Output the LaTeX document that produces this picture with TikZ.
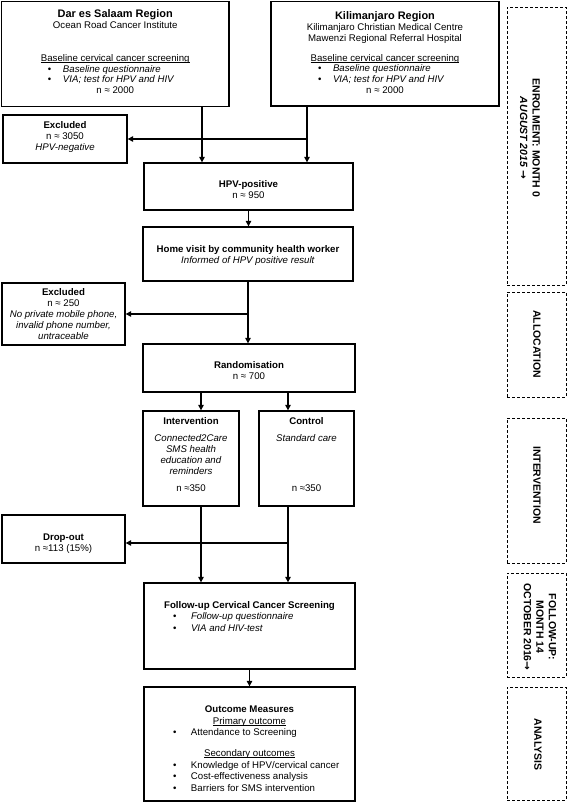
\documentclass[tikz,border=0pt]{standalone}
\usepackage{fontspec}
\setmainfont{Liberation Sans}
\newfontfamily\arrowfont{DejaVu Sans}
\usetikzlibrary{arrows.meta}
\newcommand{\bodyfont}{\fontsize{9.7}{11}\selectfont}
\newcommand{\loosefont}{\fontsize{9.7}{11.7}\selectfont}
\newcommand{\bigtitle}[1]{{\fontsize{11}{11}\selectfont\bfseries #1}}
\newcommand{\mybul}[3]{\makebox[#1][l]{\makebox[#2][l]{•}#3}}
\newcommand{\myul}[1]{\setbox0\hbox{#1}\rlap{\rule[-1.6bp]{\wd0}{0.6bp}}\box0}
\newcommand{\sidearrow}{{\arrowfont\bfseries\upshape →}}
\begin{document}
\begin{tikzpicture}[x=1bp,y=-1bp,
  box/.style={draw, line width=1.3bp, inner sep=0pt},
  sidebox/.style={draw, line width=0.8bp, dash pattern=on 3bp off 2bp, inner sep=0pt, minimum width=59bp},
  txt/.style={inner sep=0pt, align=center, font=\bodyfont},
  sidetxt/.style={inner sep=0pt, align=center, font=\fontsize{10.5}{12.5}\selectfont\bfseries, rotate=-90},
  arr/.style={line width=1.1bp, -{Triangle[length=5.5bp,width=5.5bp]}},
  ln/.style={line width=1.1bp}]
\fill[white] (0,0) rectangle (567,803);
\useasboundingbox (0,0) rectangle (567,803);

% boxes
\node[box, minimum width=227.5bp, minimum height=105bp] (dar) at (115.25,54) {};
\node[box, minimum width=228bp, minimum height=104.5bp] (kili) at (385,53.75) {};
\node[box, minimum width=124bp, minimum height=48bp] (exc1) at (65,139) {};
\node[box, minimum width=209bp, minimum height=47bp] (hpv) at (248.5,186.5) {};
\node[box, minimum width=210bp, minimum height=54bp] (home) at (248,254) {};
\node[box, minimum width=123bp, minimum height=62bp] (exc2) at (63.5,314) {};
\node[box, minimum width=212bp, minimum height=48bp] (rand) at (249,368) {};
\node[box, minimum width=96bp, minimum height=95bp] (int) at (191,458.5) {};
\node[box, minimum width=95bp, minimum height=95bp] (ctl) at (306.5,458.5) {};
\node[box, minimum width=123bp, minimum height=48bp] (drop) at (63.5,539) {};
\node[box, minimum width=211bp, minimum height=86bp] (fol) at (249.5,626) {};
\node[box, minimum width=211bp, minimum height=114bp] (out) at (249.5,744) {};

% side boxes
\node[sidebox, minimum height=278bp] (enr) at (536.5,146) {};
\node[sidebox, minimum height=105bp] (alloc) at (536.5,344.5) {};
\node[sidebox, minimum height=145bp] (intv) at (536.5,490.5) {};
\node[sidebox, minimum height=104bp] (fup) at (536.5,625) {};
\node[sidebox, minimum height=113bp] (ana) at (536.5,743.5) {};

% texts
\node[txt, anchor=north] (darT) at (115.25,9) {\bigtitle{Dar es Salaam Region}\\
  Ocean Road Cancer Institute\\[22bp]
  \myul{Baseline cervical cancer screening}\\
  \mybul{134.5bp}{15bp}{\textit{Baseline questionnaire}}\\
  \mybul{134.5bp}{15bp}{\textit{VIA; test for HPV and HIV}}\\
  n ≈ 2000};
\node[txt, anchor=north] (kiliT) at (385,11) {\bigtitle{Kilimanjaro Region}\\
  Kilimanjaro Christian Medical Centre\\
  Mawenzi Regional Referral Hospital\\[9bp]
  \myul{Baseline cervical cancer screening}\\
  \mybul{134bp}{15bp}{\textit{Baseline questionnaire}}\\
  \mybul{134bp}{15bp}{\textit{VIA; test for HPV and HIV}}\\
  n ≈ 2000};
\node[txt, anchor=north] (exc1T) at (65,121.5) {\textbf{Excluded}\\ n ≈ 3050\\ \textit{HPV-negative}};
\node[txt, anchor=north] (hpvT) at (248.5,180.5) {\textbf{HPV-positive}\\ n ≈ 950};
\node[txt, anchor=north] (homeT) at (248,245.5) {\textbf{Home visit by community health worker}\\ \textit{Informed of HPV positive result}};
\node[txt, anchor=north] (exc2T) at (63.5,288.5) {\textbf{Excluded}\\ n ≈ 250\\ \textit{No private mobile phone,}\\ \textit{invalid phone number,}\\ \textit{untraceable}};
\node[txt, anchor=north] (randT) at (249,361.5) {\textbf{Randomisation}\\ n ≈ 700};
\node[txt, anchor=north] (intT) at (191,417.5) {\textbf{Intervention}\\[6bp] \textit{Connected2Care}\\ \textit{SMS health}\\ \textit{education and}\\ \textit{reminders}\\[6bp] n ≈350};
\node[txt, anchor=north] (ctlT) at (306.5,417.5) {\textbf{Control}\\[6bp] \textit{Standard care}\\[39bp] n ≈350};
\node[txt, anchor=north] (dropT) at (63.5,533.5) {\textbf{Drop-out}\\ n ≈113 (15\%)};
\node[txt, anchor=north, font=\loosefont] (folT) at (249.5,601) {\textbf{Follow-up Cervical Cancer Screening}\\
  \mybul{153bp}{18bp}{\textit{Follow-up questionnaire}}\\
  \mybul{153bp}{18bp}{\textit{VIA and HIV-test}}};
\node[txt, anchor=north, font=\loosefont] (outT) at (249.5,705.5) {\textbf{Outcome Measures}\\
  \myul{Primary outcome}\\
  \mybul{153bp}{18bp}{Attendance to Screening}\\[9bp]
  \myul{Secondary outcomes}\\
  \mybul{153bp}{18bp}{Knowledge of HPV/cervical cancer}\\
  \mybul{153bp}{18bp}{Cost-effectiveness analysis}\\
  \mybul{153bp}{18bp}{Barriers for SMS intervention}};

% side texts
\node[sidetxt] (enrT) at (530,138) {ENROLMENT: MONTH 0\\ \textit{AUGUST 2015} \sidearrow};
\node[sidetxt] (allocT) at (537,344) {ALLOCATION};
\node[sidetxt] (intvT) at (537,485) {INTERVENTION};
\node[sidetxt] (fupT) at (540,627) {FOLLOW-UP:\\ MONTH 14\\ OCTOBER 2016\sidearrow};
\node[sidetxt] (anaT) at (538,744.5) {ANALYSIS};

% connector x positions
\coordinate (xa) at (202,0);
\coordinate (xb) at (307,0);
\coordinate (xc) at (201,0);
\coordinate (xd) at (288,0);
\coordinate (yd) at (0,543);

\draw[arr] (dar.south -| xa) -- (hpv.north -| xa);
\draw[arr] (kili.south -| xb) -- (hpv.north -| xb);
\draw[arr] (xb |- exc1.east) -- (exc1.east);
\draw[arr] (hpv.south) -- (hpv.south |- home.north);
\draw[arr] (home.south) -- (home.south |- rand.north);
\draw[arr] (home.south |- exc2.east) -- (exc2.east);
\draw[arr] (rand.south -| xc) -- (int.north -| xc);
\draw[arr] (rand.south -| xd) -- (ctl.north -| xd);
\draw[arr] (int.south -| xc) -- (fol.north -| xc);
\draw[arr] (ctl.south -| xd) -- (fol.north -| xd);
\draw[arr] (xd |- yd) -- (drop.east |- yd);
\draw[arr] (fol.south) -- (out.north);
\end{tikzpicture}
\end{document}
